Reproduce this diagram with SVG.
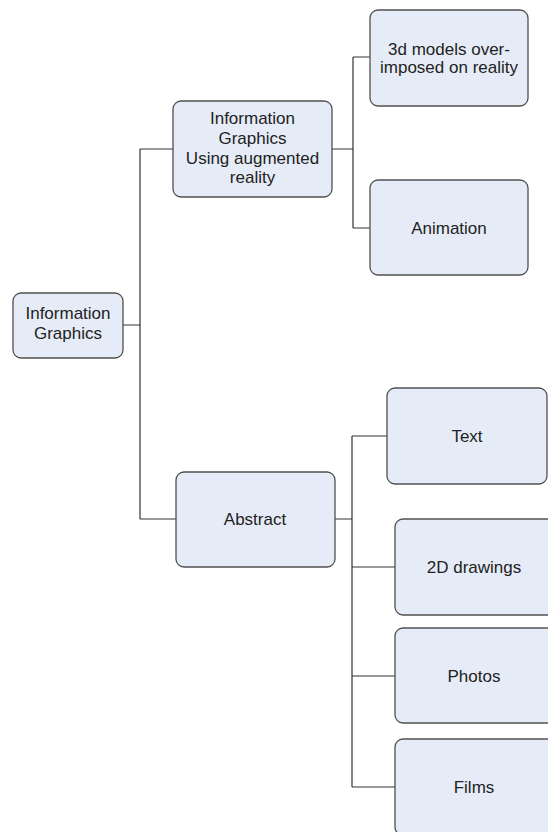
<svg xmlns="http://www.w3.org/2000/svg" width="548" height="832" viewBox="0 0 548 832">
<style>
.box{fill:#e6ecf7;stroke:#505050;stroke-width:1.3}
.lbl{font-family:"Liberation Sans",Arial,sans-serif;font-size:17px;fill:#222;text-anchor:middle}
.conn{fill:none;stroke:#333;stroke-width:1.2}
</style>
<rect width="548" height="832" fill="#fff"/>
<g id="connectors">
<path class="conn" d="M123 325H140M140 149V519M140 149H173M140 519H176"/>
<path class="conn" d="M332 149H353M353 57V228M353 57H370M353 228H370"/>
<path class="conn" d="M335 519H352M352 436V787M352 436H387M352 567H395M352 676H395M352 787H395"/>
</g>
<g id="n-root"><rect class="box" x="13" y="293" width="110" height="65" rx="8"/><text class="lbl" x="68" y="319">Information</text><text class="lbl" x="68" y="339">Graphics</text></g>
<g id="n-ar"><rect class="box" x="173" y="101" width="159" height="96" rx="8"/><text class="lbl" x="252.5" y="124">Information</text><text class="lbl" x="252.5" y="144">Graphics</text><text class="lbl" x="252.5" y="164">Using augmented</text><text class="lbl" x="252.5" y="183">reality</text></g>
<g id="n-3d"><rect class="box" x="370" y="10" width="158" height="96" rx="8"/><text class="lbl" x="449" y="55">3d models over-</text><text class="lbl" x="449" y="73">imposed on reality</text></g>
<g id="n-anim"><rect class="box" x="370" y="180" width="158" height="95" rx="8"/><text class="lbl" x="449" y="234">Animation</text></g>
<g id="n-abstract"><rect class="box" x="176" y="472" width="159" height="95" rx="8"/><text class="lbl" x="255" y="525">Abstract</text></g>
<g id="n-text"><rect class="box" x="387" y="388" width="160" height="96" rx="8"/><text class="lbl" x="467" y="442">Text</text></g>
<g id="n-2d"><rect class="box" x="395" y="519" width="160" height="96" rx="8"/><text class="lbl" x="474" y="573">2D drawings</text></g>
<g id="n-photos"><rect class="box" x="395" y="628" width="160" height="95" rx="8"/><text class="lbl" x="474" y="682">Photos</text></g>
<g id="n-films"><rect class="box" x="395" y="739" width="160" height="96" rx="8"/><text class="lbl" x="474" y="793">Films</text></g>
</svg>
